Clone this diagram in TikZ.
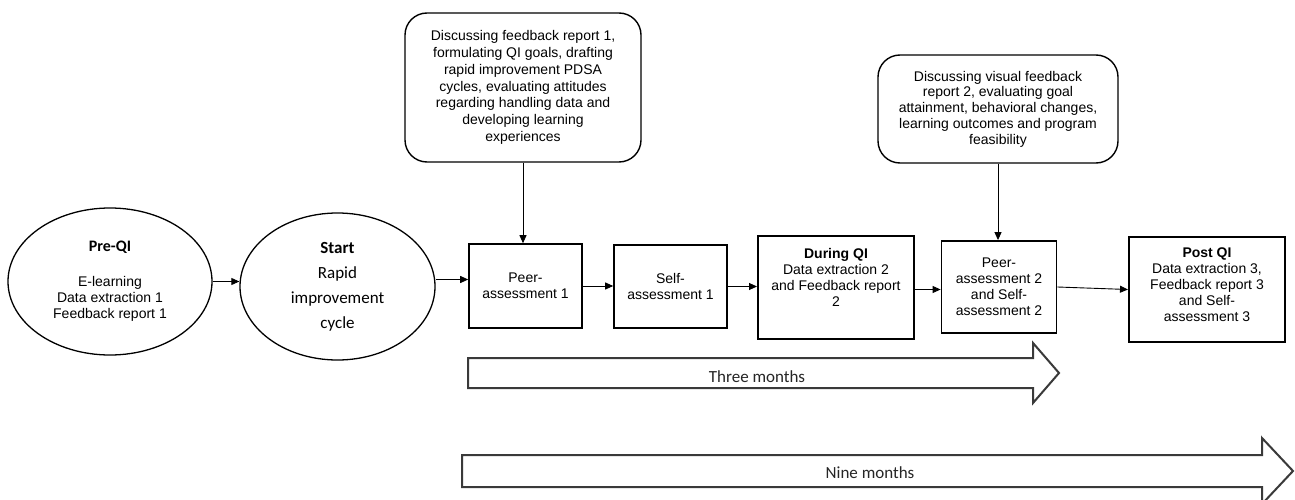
\documentclass[tikz,border=0pt]{standalone}
\usepackage{fontspec}
\setmainfont{Liberation Sans}
\newfontfamily\carl{Carlito}
\usetikzlibrary{arrows.meta,shapes.geometric}
\definecolor{bigline}{HTML}{3A3A3A}
\definecolor{bigtext}{HTML}{262626}
\begin{document}
\begin{tikzpicture}[x=1pt,y=-1pt,
  ell/.style={ellipse, draw, line width=1.3pt, inner sep=0pt, align=center, font=\fontsize{14}{16}\selectfont},
  sq/.style={rectangle, draw, line width=1.8pt, inner sep=0pt, align=center, font=\fontsize{14}{16}\selectfont},
  note/.style={rectangle, rounded corners=22pt, draw, line width=1.4pt, inner sep=0pt, align=center},
  arr/.style={-{Triangle[length=8pt,width=7pt]}, line width=0.9pt},
  bigarr/.style={draw=bigline, line width=2pt, fill=white, line join=miter},
  bigtxt/.style={text=bigtext, font=\carl\fontsize{17}{20}\selectfont, inner sep=0pt}
]
\useasboundingbox (0,0) rectangle (1295,500);
\fill[white] (0,0) rectangle (1295,500);

% ellipses
\node[ell, minimum width=204pt, minimum height=147pt] (pre) at (110,281.5)
  {{\carl\bfseries\fontsize{16}{16}\selectfont Pre-QI}\\[19pt]E-learning\\Data extraction 1\\Feedback report 1};
\node[ell, minimum width=195pt, minimum height=147pt, font=\carl\fontsize{17}{25}\selectfont] (start) at (337.5,286.5)
  {{\bfseries Start}\\Rapid\\improvement\\cycle};

% boxes
\node[sq, line width=1.6pt, minimum width=113pt, minimum height=84pt] (peer1) at (525.5,286) {Peer-\\assessment 1};
\node[sq, line width=1.6pt, minimum width=113pt, minimum height=83pt] (self1) at (670.5,286.5) {Self-\\assessment 1};
\node[sq, line width=2pt, minimum width=156pt, minimum height=103pt] (during) at (836,287.5)
  {{\bfseries During QI}\\Data extraction 2\\and Feedback report\\2\\\strut};
\node[sq, minimum width=115pt, minimum height=92pt] (peer2) at (999,287)
  {Peer-\\assessment 2\\and Self-\\assessment 2};
\node[sq, line width=2pt, minimum width=156pt, minimum height=105pt] (post) at (1207,289.5)
  {{\bfseries Post QI}\\Data extraction 3,\\Feedback report 3\\and Self-\\assessment 3\\[-6pt]\mbox{}};

% rounded notes
\node[note, minimum width=236pt, minimum height=149pt, font=\fontsize{14}{16.8}\selectfont] (box1) at (523,87.5)
  {Discussing feedback report 1,\\formulating QI goals, drafting\\rapid improvement PDSA\\cycles, evaluating attitudes\\regarding handling data and\\developing learning\\experiences};
\node[note, minimum width=240pt, minimum height=108pt, font=\fontsize{14}{15.8}\selectfont] (box2) at (998,109)
  {Discussing visual feedback\\report 2, evaluating goal\\attainment, behavioral changes,\\learning outcomes and program\\feasibility};

% connectors
\draw[arr] (pre.east) -- (pre.east -| start.west);
\draw[arr] ([yshift=7pt]start.east) -- ([yshift=7pt]start.east -| peer1.west);
\draw[arr] (peer1.east) -- (peer1.east -| self1.west);
\draw[arr] (self1.east) -- (self1.east -| during.west);
\draw[arr] ([yshift=-2pt]during.east) -- ([yshift=-2pt]during.east -| peer2.west);
\draw[arr] (peer2.east) -- (post.west);
\draw[arr] (box1.south) -- (box1.south |- peer1.north);
\draw[arr] (box2.south) -- (box2.south |- peer2.north);

% timeline arrows
\draw[bigarr] (468,358) -- (1033,358) -- (1033,343) -- (1059,373) -- (1033,403) -- (1033,388) -- (468,388) -- cycle;
\node[bigtxt] (three) at (757,377) {Three months};
\begin{scope}
\clip (0,0) rectangle (1295,500);
\draw[bigarr] (462,455) -- (1262,455) -- (1262,438) -- (1293,471) -- (1262,504) -- (1262,487) -- (462,487) -- cycle;
\end{scope}
\node[bigtxt] (nine) at (870,473) {Nine months};
\end{tikzpicture}
\end{document}
